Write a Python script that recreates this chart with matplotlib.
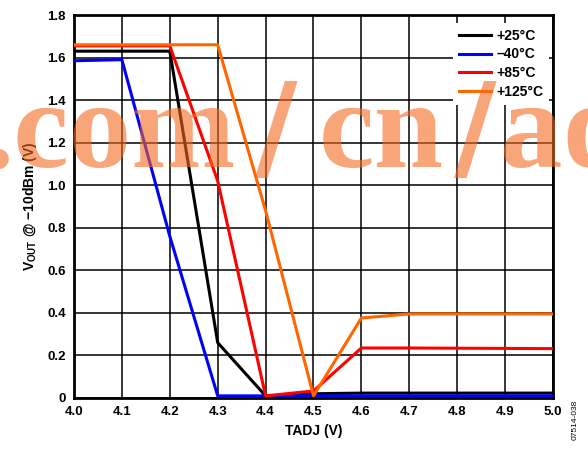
import numpy as np
import matplotlib.pyplot as plt

tadj = [4.0, 4.1, 4.2, 4.3, 4.4, 4.5, 4.6, 4.7, 4.8, 4.9, 5.0]
v_25 = [1.63, 1.63, 1.63, 0.26, 0.01, 0.02, 0.023, 0.023, 0.023, 0.023, 0.023]
v_m40 = [1.585, 1.59, 0.76, 0.01, 0.01, 0.01, 0.01, 0.01, 0.01, 0.01, 0.01]
v_85 = [1.655, 1.655, 1.655, 1.02, 0.01, 0.033, 0.235, 0.235, 0.234, 0.233, 0.232]
v_125 = [1.66, 1.66, 1.66, 1.66, 0.88, 0.01, 0.376, 0.395, 0.395, 0.395, 0.395]

series = [('+25°C', v_25, 'black'),
          ('\u201340°C', v_m40, '#0000ff'),
          ('+85°C', v_85, '#ff0000'),
          ('+125°C', v_125, '#ff6600')]

plt.rcParams['font.family'] = ['Liberation Sans', 'DejaVu Sans']
plt.rcParams['font.weight'] = 'bold'
plt.rcParams['mathtext.fontset'] = 'custom'
plt.rcParams['mathtext.rm'] = 'Liberation Sans:bold'
plt.rcParams['mathtext.bf'] = 'Liberation Sans:bold'

fig = plt.figure(figsize=(5.88, 4.49), dpi=100)
ax = fig.add_axes([74/588, 1-398/449, (553-74)/588, (398-15)/449])

for label, vals, col in series:
    ax.plot(tadj, vals, color=col, lw=2.2, label=label, zorder=3)

ax.set_xlim(4.0, 5.0)
ax.set_ylim(0, 1.8)
ax.set_xticks(np.arange(4.0, 5.01, 0.1))
ax.set_yticks(np.arange(0, 1.81, 0.2))
ax.set_xticklabels(['%.1f' % v for v in np.arange(4.0, 5.01, 0.1)])
ax.set_yticklabels(['0'] + ['%.1f' % v for v in np.arange(0.2, 1.81, 0.2)])
ax.grid(True, color='black', lw=1.1)
ax.tick_params(length=0, labelsize=9.5, pad=6)
for s in ax.spines.values():
    s.set_linewidth(2)

ax.set_xlabel('TADJ (V)', fontsize=10, fontweight='bold', labelpad=4)
ax.set_ylabel('V$_{\\mathbf{OUT}}$ @ \u221210dBm (V)', fontsize=10, fontweight='bold', labelpad=6)

leg = ax.legend(loc='upper right', bbox_to_anchor=(1.0, 0.99), frameon=True, fancybox=False,
                edgecolor='none', framealpha=1, fontsize=10, handlelength=2.3,
                handletextpad=0.4, labelspacing=0.35, borderaxespad=0.3)
for t in leg.get_texts():
    t.set_fontweight('bold')

fig.text(575/588, 1-420/449, '07514-038', rotation=90, fontsize=6, fontweight='normal',
         ha='center', va='center')

# watermark, drawn in pieces to follow the reference spacing
wm = dict(fontweight='bold', color='#f56921', alpha=0.6, va='baseline', zorder=10)
base = 1 - 167/449
fig.text(-17/588, base, '.com', fontsize=90, ha='left', family='Liberation Serif', **wm)
fig.text(276/588, base, '/', fontsize=84, ha='center', family='DejaVu Serif', **wm)
fig.text(319/588, base, 'cn', fontsize=90, ha='left', family='Liberation Serif', **wm)
fig.text(475/588, base, '/', fontsize=84, ha='center', family='DejaVu Serif', **wm)
fig.text(500/588, base, 'ad', fontsize=90, ha='left', family='Liberation Serif', **wm)

fig.savefig('out.png', dpi=100)
